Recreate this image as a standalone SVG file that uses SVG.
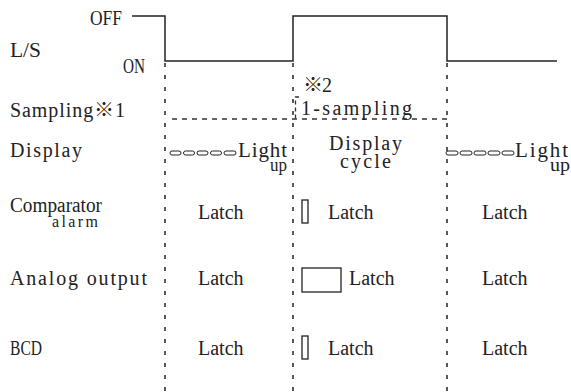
<svg xmlns="http://www.w3.org/2000/svg" width="571" height="392" viewBox="0 0 571 392">
<style>
.lbl{font-family:"Liberation Serif","Noto Sans CJK SC",serif;font-size:20px;fill:#222}
.ser{font-family:"Liberation Serif","Noto Sans CJK SC",serif;font-size:20px;fill:#222}
.wave{fill:none;stroke:#222;stroke-width:1.5}
.vdash{fill:none;stroke:#222;stroke-width:1.5;stroke-dasharray:4 8}
.hdash{fill:none;stroke:#333;stroke-width:1.3;stroke-dasharray:5 5}
.box{fill:#fff;stroke:#222;stroke-width:1.3}
.cap{fill:#fff;stroke:#222;stroke-width:1}
</style>
<rect width="571" height="392" fill="#fff"/>
<g id="labels">
<text class="lbl" x="90" y="25" textLength="32" lengthAdjust="spacingAndGlyphs">OFF</text>
<text class="lbl" x="10" y="57" textLength="31" lengthAdjust="spacingAndGlyphs">L/S</text>
<text class="lbl" x="123" y="73" textLength="22" lengthAdjust="spacingAndGlyphs">ON</text>
<text class="lbl" x="10" y="117" textLength="115">Sampling※1</text>
<text class="lbl" x="10" y="157" textLength="72">Display</text>
<text class="lbl" x="10" y="212" textLength="92" lengthAdjust="spacingAndGlyphs">Comparator</text>
<text class="lbl" x="52" y="227" style="font-size:16px" textLength="46">alarm</text>
<text class="lbl" x="10" y="285" textLength="137">Analog output</text>
<text class="lbl" x="10" y="355" style="font-size:21px" textLength="32" lengthAdjust="spacingAndGlyphs">BCD</text>
</g>
<g id="connectors">
<path class="wave" d="M132,16 H165 V61 H293 V16 H447 V61 H557"/>
<path class="vdash" d="M165,63 V392 M293,63 V392 M447,63 V392"/>
<path class="hdash" d="M172,119 H447"/>
<path class="hdash" d="M299,97 H295.5 V119" style="stroke-dasharray:4 3"/>
</g>
<g id="sampling">
<text class="lbl" x="303" y="92" textLength="29">※2</text>
<text class="lbl" x="301" y="115" textLength="111">1-sampling</text>
</g>
<g id="display-col1">
<rect class="cap" x="170" y="151" width="11" height="4" rx="2"/>
<rect class="cap" x="183.5" y="151" width="11" height="4" rx="2"/>
<rect class="cap" x="197" y="151" width="11" height="4" rx="2"/>
<rect class="cap" x="210.5" y="151" width="11" height="4" rx="2"/>
<rect class="cap" x="224" y="151" width="12" height="4" rx="2"/>
<text class="ser" x="238" y="157" style="font-size:21px" textLength="49">Light</text>
<text class="ser" x="270" y="171" style="font-size:18px" textLength="17" lengthAdjust="spacingAndGlyphs">up</text>
</g>
<g id="display-col2">
<text class="lbl" x="329" y="150" textLength="73">Display</text>
<text class="lbl" x="340" y="168" textLength="51">cycle</text>
</g>
<g id="display-col3">
<rect class="cap" x="446" y="151" width="12" height="4" rx="2"/>
<rect class="cap" x="460" y="151" width="12" height="4" rx="2"/>
<rect class="cap" x="474" y="151" width="12" height="4" rx="2"/>
<rect class="cap" x="488" y="151" width="12" height="4" rx="2"/>
<rect class="cap" x="502" y="151" width="12" height="4" rx="2"/>
<text class="ser" x="515" y="157" style="font-size:21px" textLength="53">Light</text>
<text class="ser" x="550" y="171" style="font-size:18px" textLength="20" lengthAdjust="spacingAndGlyphs">up</text>
</g>
<g id="comparator">
<text class="ser" x="198" y="219">Latch</text>
<rect class="box" x="302" y="200" width="6" height="23"/>
<text class="ser" x="328" y="219">Latch</text>
<text class="ser" x="482" y="219">Latch</text>
</g>
<g id="analog">
<text class="ser" x="198" y="285">Latch</text>
<rect class="box" x="302" y="268" width="39" height="24"/>
<text class="ser" x="349" y="285">Latch</text>
<text class="ser" x="482" y="285">Latch</text>
</g>
<g id="bcd">
<text class="ser" x="198" y="355">Latch</text>
<rect class="box" x="302" y="336" width="6" height="23"/>
<text class="ser" x="328" y="355">Latch</text>
<text class="ser" x="482" y="355">Latch</text>
</g>
</svg>
